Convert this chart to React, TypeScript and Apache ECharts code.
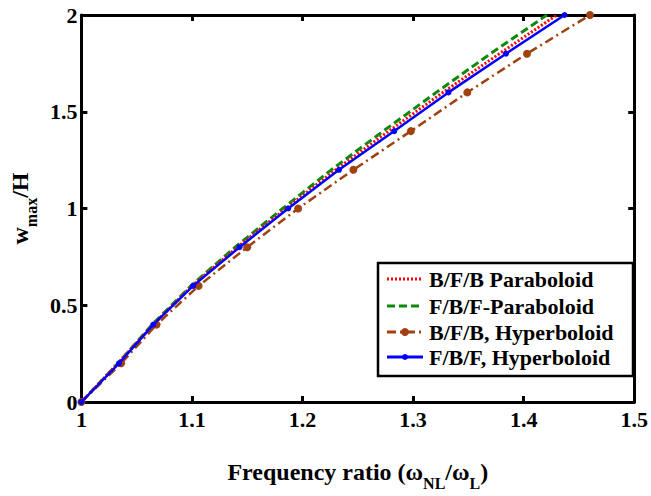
import React, { useEffect, useRef } from "react";
import * as echarts from "echarts";

const wValues = [0, 0.2, 0.4, 0.6, 0.8, 1.0, 1.2, 1.4, 1.6, 1.8, 2.0];
const bfbParaboloid = [1, 1.033, 1.065, 1.1, 1.141, 1.185, 1.23, 1.278, 1.327, 1.378, 1.43];
const fbfParaboloid = [1, 1.033, 1.064, 1.099, 1.139, 1.182, 1.226, 1.273, 1.321, 1.37, 1.421];
const bfbHyperboloid = [1, 1.036, 1.068, 1.106, 1.15, 1.196, 1.246, 1.298, 1.349, 1.403, 1.46];
const fbfHyperboloid = [1, 1.034, 1.065, 1.101, 1.143, 1.187, 1.233, 1.283, 1.332, 1.384, 1.437];

const seriesNames = [
  "B/F/B Paraboloid",
  "F/B/F-Paraboloid",
  "B/F/B, Hyperboloid",
  "F/B/F, Hyperboloid",
];
const seriesColors = ["#ff0000", "#0a8a0a", "#a0420f", "#0000ff"];
const seriesDash: (number[] | null)[] = [[2, 2], [8, 4], [9, 4, 2, 4], null];
const seriesMarker = [0, 0, 8, 6];

const FONT = "'Liberation Serif', 'Times New Roman', serif";

const pair = (xs: number[]) => xs.map((x, i) => [x, wValues[i]]);

export default function App() {
  const ref = useRef<HTMLDivElement>(null);
  useEffect(() => {
    if (!ref.current) return;
    const chart = echarts.init(ref.current, null, { renderer: "svg" });
    const axisLabel = { fontFamily: FONT, fontWeight: "bold", fontSize: 22, color: "#000" };
    const lineAxis = { show: true, lineStyle: { color: "#000", width: 3 } };
    const tick = { show: true, inside: true, length: 6, lineStyle: { color: "#000", width: 3 } };
    const richName = {
      a: { fontFamily: FONT, fontWeight: "bold", fontSize: 24, color: "#000", lineHeight: 28, verticalAlign: "bottom" },
      s: { fontFamily: FONT, fontWeight: "bold", fontSize: 16, color: "#000", lineHeight: 28, verticalAlign: "bottom", padding: [0, 0, -7, 0] },
    };

    const legendX = 378;
    const legendY = 263;
    const rowY = [279, 306, 332, 357];
    const legendGraphics: any[] = [
      {
        type: "rect",
        shape: { x: legendX, y: legendY, width: 255, height: 113 },
        style: { fill: "#fff", stroke: "#000", lineWidth: 2.5 },
        z: 100,
      },
    ];
    seriesNames.forEach((name, i) => {
      legendGraphics.push({
        type: "line",
        shape: { x1: 387, y1: rowY[i], x2: 423, y2: rowY[i] },
        style: {
          stroke: seriesColors[i],
          lineWidth: 3,
          lineDash: seriesDash[i] || undefined,
        },
        z: 101,
      });
      if (seriesMarker[i] > 0) {
        legendGraphics.push({
          type: "circle",
          shape: { cx: 405, cy: rowY[i], r: seriesMarker[i] / 2 },
          style: { fill: seriesColors[i] },
          z: 102,
        });
      }
      legendGraphics.push({
        type: "text",
        x: 429,
        y: rowY[i],
        style: {
          text: name,
          fontFamily: FONT,
          fontWeight: "bold",
          fontSize: 22,
          fill: "#000",
          verticalAlign: "middle",
          align: "left",
        },
        z: 102,
      });
    });

    chart.setOption({
      animation: false,
      backgroundColor: "#fff",
      grid: { left: 81, right: 15, top: 15, bottom: 74, containLabel: false },
      xAxis: [
        {
          type: "value",
          min: 1,
          max: 1.5,
          interval: 0.1,
          position: "bottom",
          axisLine: { ...lineAxis, onZero: false },
          axisTick: tick,
          axisLabel: { ...axisLabel, margin: 6, formatter: (v: number) => String(Math.round(v * 10) / 10) },
          splitLine: { show: false },
          name: "{a|Frequency ratio (ω}{s|NL}{a|/ω}{s|L}{a|)}",
          nameLocation: "middle",
          nameGap: 54,
          nameTextStyle: { rich: richName },
        },
        {
          type: "value",
          min: 1,
          max: 1.5,
          interval: 0.1,
          position: "top",
          axisLine: { ...lineAxis, onZero: false },
          axisTick: tick,
          axisLabel: { show: false },
          splitLine: { show: false },
        },
      ],
      yAxis: [
        {
          type: "value",
          min: 0,
          max: 2,
          interval: 0.5,
          position: "left",
          axisLine: { ...lineAxis, onZero: false },
          axisTick: tick,
          axisLabel: { ...axisLabel, margin: 4 },
          splitLine: { show: false },
          name: "{a|w}{s|max}{a|/H}",
          nameLocation: "middle",
          nameGap: 48,
          nameRotate: 90,
          nameTextStyle: { rich: richName },
        },
        {
          type: "value",
          min: 0,
          max: 2,
          interval: 0.5,
          position: "right",
          axisLine: { ...lineAxis, onZero: false },
          axisTick: tick,
          axisLabel: { show: false },
          splitLine: { show: false },
        },
      ],
      graphic: legendGraphics,
      series: [
        {
          name: seriesNames[0],
          type: "line",
          data: pair(bfbParaboloid),
          symbol: "none",
          lineStyle: { color: seriesColors[0], width: 3, type: seriesDash[0] },
          itemStyle: { color: seriesColors[0] },
          z: 3,
        },
        {
          name: seriesNames[1],
          type: "line",
          data: pair(fbfParaboloid),
          symbol: "none",
          lineStyle: { color: seriesColors[1], width: 3, type: seriesDash[1] },
          itemStyle: { color: seriesColors[1] },
          z: 2,
        },
        {
          name: seriesNames[2],
          type: "line",
          data: pair(bfbHyperboloid),
          symbol: "circle",
          symbolSize: seriesMarker[2],
          showAllSymbol: true,
          lineStyle: { color: seriesColors[2], width: 2.5, type: seriesDash[2] },
          itemStyle: { color: seriesColors[2] },
          z: 2,
        },
        {
          name: seriesNames[3],
          type: "line",
          data: pair(fbfHyperboloid),
          symbol: "circle",
          symbolSize: seriesMarker[3],
          showAllSymbol: true,
          lineStyle: { color: seriesColors[3], width: 2.5 },
          itemStyle: { color: seriesColors[3] },
          z: 4,
        },
      ],
    });
    return () => chart.dispose();
  }, []);
  return <div ref={ref} style={{ width: 651, height: 496, position: "absolute", left: 0, top: 0 }} />;
}
